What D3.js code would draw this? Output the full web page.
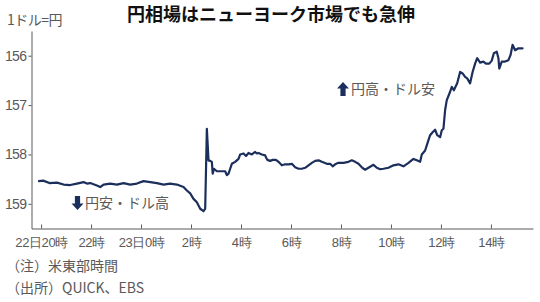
<!DOCTYPE html>
<html>
<head>
<meta charset="utf-8">
<script src="https://cdn.jsdelivr.net/npm/d3@7"></script>
<style>
  html, body { margin: 0; padding: 0; background: #fff; }
  svg { display: block; font-family: "Noto Sans CJK JP", "Noto Sans", sans-serif; }
</style>
</head>
<body>
<div id="chart"></div>
<script>
// ── data: minutes after 22日20時 (NY time) and yen per dollar ──────────────
const minutes = [
  -5, 5, 20, 38, 54, 70, 86, 102, 110, 118, 134, 142, 150, 166, 182, 198, 214, 230,
  246, 262, 278, 294, 310, 326, 342, 350, 358, 366, 374, 382, 390, 394, 398, 402,
  406, 410, 412, 415, 422, 430, 438, 442, 446, 450, 454, 458, 466, 474, 478, 486,
  492, 498, 506, 514, 518, 522, 530, 538, 543, 550, 556, 564, 570, 578, 586, 594,
  602, 610, 618, 626, 634, 642, 650, 658, 666, 674, 686, 694, 700, 706, 714, 726,
  738, 746, 754, 762, 770, 778, 786, 798, 806, 814, 822, 834, 846, 858, 870, 882,
  894, 902, 910, 914, 922, 930, 934, 940, 946, 951, 958, 962, 966, 970, 974, 982,
  986, 991, 999, 1006, 1012, 1018, 1023, 1030, 1036, 1042, 1047, 1054, 1062, 1068,
  1076, 1082, 1087, 1094, 1098, 1100, 1106, 1114, 1122, 1127, 1132, 1138, 1146, 1156
];
const rates = [
  158.54, 158.53, 158.58, 158.57, 158.61, 158.62, 158.59, 158.56, 158.59, 158.58,
  158.63, 158.66, 158.61, 158.59, 158.61, 158.58, 158.61, 158.59, 158.54, 158.56,
  158.58, 158.61, 158.59, 158.61, 158.66, 158.73, 158.79, 158.90, 158.97, 159.10,
  159.15, 159.10, 157.48, 158.12, 158.13, 158.15, 158.39, 158.29, 158.34, 158.34,
  158.34, 158.34, 158.42, 158.39, 158.29, 158.19, 158.15, 158.09, 158.00, 157.98,
  158.03, 157.97, 158.00, 157.95, 157.98, 157.97, 158.00, 158.02, 158.11, 158.13,
  158.11, 158.11, 158.15, 158.22, 158.20, 158.20, 158.19, 158.26, 158.29, 158.29,
  158.27, 158.22, 158.17, 158.13, 158.12, 158.15, 158.19, 158.19, 158.24, 158.20,
  158.17, 158.17, 158.15, 158.12, 158.15, 158.19, 158.26, 158.31, 158.27, 158.21,
  158.27, 158.30, 158.29, 158.27, 158.22, 158.20, 158.24, 158.17, 158.09, 158.12,
  158.15, 158.00, 157.92, 157.71, 157.61, 157.55, 157.50, 157.61, 157.65, 157.51,
  157.48, 157.10, 156.90, 156.73, 156.63, 156.70, 156.56, 156.33, 156.36, 156.43,
  156.46, 156.56, 156.33, 156.16, 156.05, 156.14, 156.12, 156.16, 156.16, 156.10,
  155.95, 155.92, 156.05, 156.26, 156.12, 156.12, 156.09, 155.99, 155.78, 155.89,
  155.85, 155.85
];

// axis ticks
const xTickMinutes = [0, 120, 240, 360, 480, 600, 720, 840, 960, 1080];
const xTickLabels  = ["22日20時", "22時", "23日0時", "2時", "4時", "6時", "8時", "10時", "12時", "14時"];
const yTickValues  = [156, 157, 158, 159];

const series = minutes.map((m, i) => ({ m: m, v: rates[i] }));

// ── canvas ─────────────────────────────────────────────────────────────────
const W = 540, H = 302;
const svg = d3.select('#chart')
  .append('svg')
  .attr('width', W)
  .attr('height', H);

const gray = '#595959';
const navy = '#1c2f5c';

const x = d3.scaleLinear().domain([-23, 1181]).range([31.5, 533]);
const y = d3.scaleLinear().domain([155.5, 159.5]).range([31, 228.5]);   // yen up = value down

// ── axes ───────────────────────────────────────────────────────────────────
const xAxis = d3.axisBottom(x)
  .tickValues(xTickMinutes)
  .tickFormat((d, i) => xTickLabels[i])
  .tickSize(-4)
  .tickPadding(9)
  .tickSizeOuter(0);

const gx = svg.append('g')
  .attr('transform', `translate(0,${y.range()[1]})`)
  .call(xAxis);

gx.select('.domain').attr('stroke', gray);
gx.selectAll('.tick line').attr('stroke', gray);
gx.selectAll('.tick text')
  .attr('fill', gray)
  .style('font-size', '13px')
  .style('letter-spacing', '-0.4px');

const yAxis = d3.axisLeft(y)
  .tickValues(yTickValues)
  .tickFormat(d3.format('d'))
  .tickSize(3)
  .tickPadding(2)
  .tickSizeOuter(0);

const gy = svg.append('g')
  .attr('transform', `translate(${x.range()[0]},0)`)
  .call(yAxis);

gy.select('.domain').attr('stroke', gray);
gy.selectAll('.tick line').attr('stroke', gray);
gy.selectAll('.tick text')
  .attr('fill', gray)
  .style('font-size', '14px')
  .style('letter-spacing', '-0.6px');

// ── line ───────────────────────────────────────────────────────────────────
const line = d3.line()
  .x(d => x(d.m))
  .y(d => y(d.v));

svg.append('path')
  .datum(series)
  .attr('fill', 'none')
  .attr('stroke', navy)
  .attr('stroke-width', 2.2)
  .attr('stroke-linejoin', 'round')
  .attr('stroke-linecap', 'round')
  .attr('d', line);

// ── texts ──────────────────────────────────────────────────────────────────
svg.append('text')
  .attr('x', 127).attr('y', 21)
  .attr('fill', '#111')
  .style('font-size', '18px')
  .style('font-weight', 'bold')
  .text('円相場はニューヨーク市場でも急伸');

svg.append('text')
  .attr('x', 7).attr('y', 25)
  .attr('fill', gray)
  .style('font-size', '14px')
  .style('letter-spacing', '-0.5px')
  .text('1ドル=円');

svg.append('text')
  .attr('x', 6).attr('y', 271)
  .attr('fill', gray)
  .style('font-size', '14px')
  .text('（注）米東部時間');

svg.append('text')
  .attr('x', 6).attr('y', 293)
  .attr('fill', gray)
  .style('font-size', '14px')
  .text('（出所）QUICK、EBS');

// block arrows + notes
function blockArrow(cx, top, h, up) {
  const hw = 6, sw = 2.6, hh = 6.5;
  const pts = up
    ? [[cx, top], [cx + hw, top + hh], [cx + sw, top + hh], [cx + sw, top + h],
       [cx - sw, top + h], [cx - sw, top + hh], [cx - hw, top + hh]]
    : [[cx, top + h], [cx + hw, top + h - hh], [cx + sw, top + h - hh], [cx + sw, top],
       [cx - sw, top], [cx - sw, top + h - hh], [cx - hw, top + h - hh]];
  svg.append('path')
    .attr('d', d3.line()(pts) + 'Z')
    .attr('fill', navy);
}

blockArrow(77.5, 196, 14, false);
svg.append('text')
  .attr('x', 85).attr('y', 208)
  .attr('fill', gray)
  .style('font-size', '14px')
  .text('円安・ドル高');

blockArrow(343, 82, 14, true);
svg.append('text')
  .attr('x', 351).attr('y', 94)
  .attr('fill', gray)
  .style('font-size', '14px')
  .text('円高・ドル安');
</script>
</body>
</html>
